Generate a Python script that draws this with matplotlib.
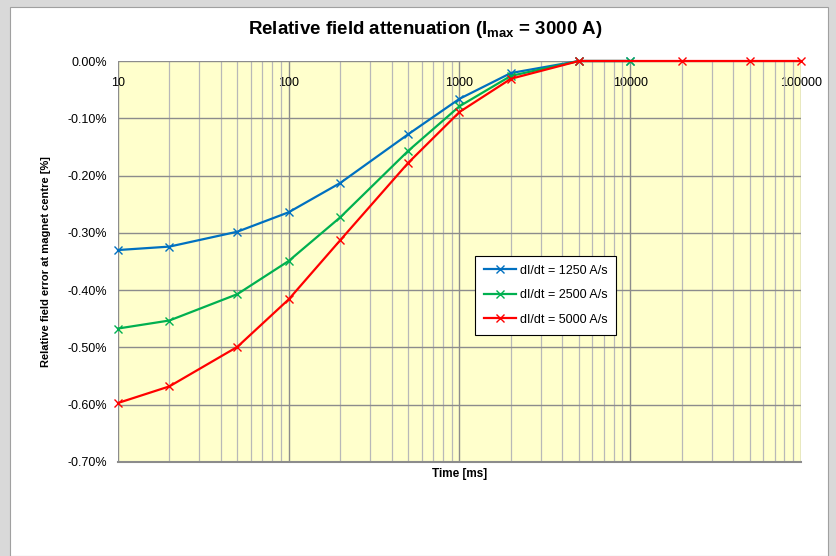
import matplotlib
matplotlib.use("Agg")
import matplotlib.pyplot as plt
from matplotlib.patches import Rectangle
from matplotlib.ticker import FixedLocator, NullFormatter
import numpy as np

FONT = ['Liberation Sans', 'DejaVu Sans']
plt.rcParams['font.family'] = FONT
plt.rcParams['mathtext.fontset'] = 'custom'
plt.rcParams['mathtext.rm'] = 'Liberation Sans'
plt.rcParams['mathtext.bf'] = 'Liberation Sans:bold'

# Data
t_bg = [10, 20, 50, 100, 200, 500, 1000, 2000, 5000, 10000]
t_red = [10, 20, 50, 100, 200, 500, 1000, 2000, 5000, 20000, 50000, 100000]
blue = [-0.330, -0.324, -0.298, -0.264, -0.213, -0.128, -0.066, -0.021, 0.0, 0.0]
green = [-0.467, -0.453, -0.407, -0.349, -0.273, -0.157, -0.079, -0.026, 0.0, 0.0]
red = [-0.597, -0.568, -0.499, -0.416, -0.313, -0.178, -0.089, -0.031, 0.0, 0.0, 0.0, 0.0]
labels = ['dI/dt = 1250 A/s', 'dI/dt = 2500 A/s', 'dI/dt = 5000 A/s']
xticks = [10, 100, 1000, 10000, 100000]
xticklabels = ['10', '100', '1000', '10000', '100000']
yticks = [0.0, -0.1, -0.2, -0.3, -0.4, -0.5, -0.6, -0.7]
colors = ['#0070C0', '#00B050', '#FF0000']

W, H = 837, 556
fig = plt.figure(figsize=(W / 100, H / 100), dpi=100)
fig.patch.set_facecolor('#d9d9d9')
fig.add_artist(Rectangle((10 / W, 0), (828 - 10) / W, (H - 7) / H, transform=fig.transFigure,
                         facecolor='white', edgecolor='#a0a0a0', lw=0.8, zorder=-5))

ax = fig.add_axes([118 / W, (H - 462) / H, (801 - 118) / W, (462 - 61) / H])
ax.set_zorder(1)
ax.set_facecolor('#FFFFCC')
ax.set_xscale('log')
ax.set_xlim(10, 100000)
ax.set_ylim(-0.7, 0.0)

# grid
ax.xaxis.set_major_locator(FixedLocator(xticks))
minors = [m * 10 ** e for e in range(1, 5) for m in range(2, 10)]
ax.xaxis.set_minor_locator(FixedLocator(minors))
ax.xaxis.set_minor_formatter(NullFormatter())
ax.grid(which='major', axis='x', color='#8c8c8c', lw=1.0)
ax.grid(which='minor', axis='x', color='#b8b8b8', lw=0.9)
ax.grid(which='major', axis='y', color='#8c8c8c', lw=1.0)
ax.set_axisbelow(True)

for s in ['top', 'right', 'left']:
    ax.spines[s].set_visible(False)
ax.spines['bottom'].set_color('#8c8c8c')
ax.spines['bottom'].set_linewidth(1.5)

ax.set_yticks(yticks)
ax.set_yticklabels(['%.2f%%' % v for v in yticks], fontsize=9)
ax.tick_params(axis='y', length=0, pad=8)

ax.xaxis.set_ticks_position('top')
ax.set_xticklabels(xticklabels, fontsize=9)
ax.tick_params(axis='x', which='both', length=0, labeltop=True, labelbottom=False,
               pad=-20.5)

ax.plot(t_bg, blue, color=colors[0], lw=1.6, marker='x', ms=6, mew=1.0, label=labels[0], clip_on=False)
ax.plot(t_bg, green, color=colors[1], lw=1.6, marker='x', ms=6, mew=1.0, label=labels[1], clip_on=False)
ax.plot(t_red, red, color=colors[2], lw=1.6, marker='x', ms=6, mew=1.0, label=labels[2], clip_on=False)

leg = ax.legend(loc='upper left', bbox_to_anchor=((475 - 118) / 683, (462 - 256) / 401),
                frameon=True, fancybox=False, fontsize=9, handlelength=2.6,
                labelspacing=1.0, borderpad=0.7, handletextpad=0.3, borderaxespad=0)
leg.get_frame().set_edgecolor('black')
leg.get_frame().set_linewidth(0.8)
leg.get_frame().set_facecolor('white')
leg.get_frame().set_alpha(1)

fig.text(425 / W, 1 - 29 / H, r'Relative field attenuation (I$_{\mathbf{max}}$ = 3000 A)',
         ha='center', va='center', fontsize=13.5, fontweight='bold')
fig.text(460 / W, 1 - 474 / H, 'Time [ms]', ha='center', va='center', fontsize=8.5, fontweight='bold')
fig.text(46 / W, 1 - 262 / H, 'Relative field error at magnet centre [%]', ha='center', va='center',
         rotation=90, fontsize=8, fontweight='bold')

fig.savefig('out.png', dpi=100, facecolor=fig.get_facecolor())
